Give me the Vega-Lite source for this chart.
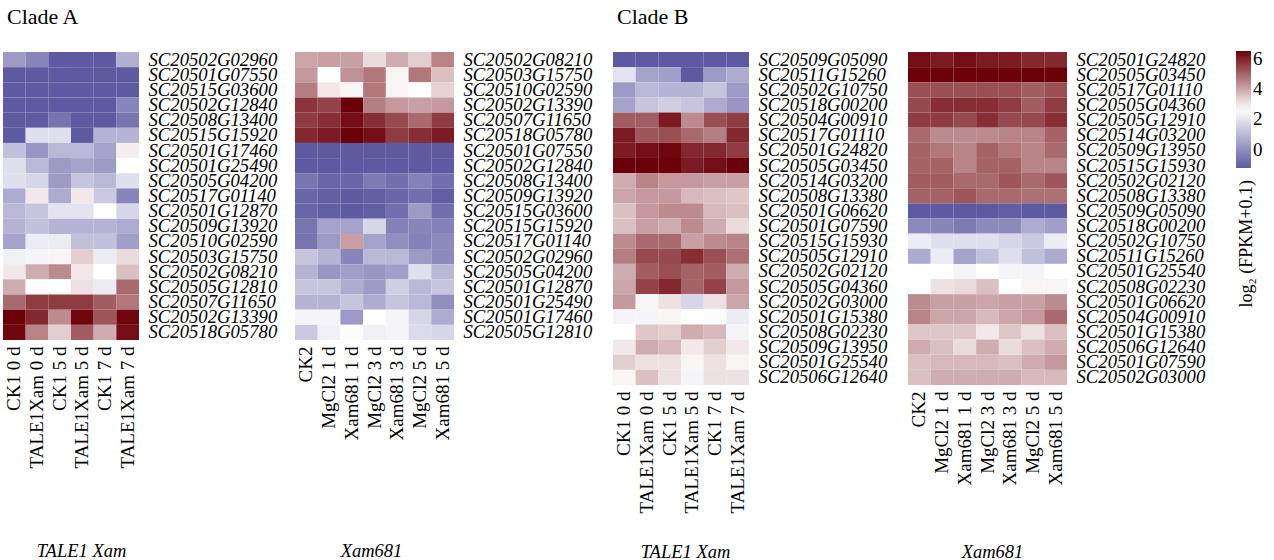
{
"$schema": "https://vega.github.io/schema/vega-lite/v6.json",
"background": "white",
"padding": {"left": 3, "top": 6, "right": 0, "bottom": 0},
"config": {
  "font": "Liberation Serif",
  "view": {"stroke": null},
  "axisX": {"labelAngle": 270, "domain": false, "ticks": false, "labelFontSize": 19, "labelPadding": 6, "labelColor": "#000", "titleFontSize": 18.5, "titleFontStyle": "italic", "titleFontWeight": "normal", "titleBaseline": "alphabetic", "titleColor": "#000", "labelOverlap": false},
  "axisY": {"domain": false, "ticks": false, "labelFontSize": 18.7, "labelFontStyle": "italic", "labelPadding": 9, "labelColor": "#000", "labelOverlap": false, "title": null},
  "title": {"fontSize": 22, "fontWeight": "normal", "anchor": "start", "color": "#000", "baseline": "alphabetic", "dx": 4, "offset": 21},
  "legend": {"orient": "none", "legendX": 1233, "legendY": -1, "direction": "vertical", "gradientLength": 117, "gradientThickness": 15, "labelFontSize": 19, "labelOffset": 6, "labelColor": "#000", "titleOrient": "bottom", "titleFontSize": 18, "titleFontWeight": "normal", "titleLimit": 0, "titlePadding": 12, "titleColor": "#000", "gradientStrokeWidth": 0}
},
"datasets": {
"A1": [
{"g":"SC20502G02960","s":"CK1 0 d","v":0.3},{"g":"SC20502G02960","s":"TALE1Xam 0 d","v":-0.2},{"g":"SC20502G02960","s":"CK1 5 d","v":-1.2},{"g":"SC20502G02960","s":"TALE1Xam 5 d","v":-1.2},{"g":"SC20502G02960","s":"CK1 7 d","v":-1.2},{"g":"SC20502G02960","s":"TALE1Xam 7 d","v":0.8},
{"g":"SC20501G07550","s":"CK1 0 d","v":-1.2},{"g":"SC20501G07550","s":"TALE1Xam 0 d","v":-1.2},{"g":"SC20501G07550","s":"CK1 5 d","v":-1.2},{"g":"SC20501G07550","s":"TALE1Xam 5 d","v":-1.2},{"g":"SC20501G07550","s":"CK1 7 d","v":-1.2},{"g":"SC20501G07550","s":"TALE1Xam 7 d","v":-1.2},
{"g":"SC20515G03600","s":"CK1 0 d","v":-1.2},{"g":"SC20515G03600","s":"TALE1Xam 0 d","v":-1.2},{"g":"SC20515G03600","s":"CK1 5 d","v":-1.2},{"g":"SC20515G03600","s":"TALE1Xam 5 d","v":-1.2},{"g":"SC20515G03600","s":"CK1 7 d","v":-1.2},{"g":"SC20515G03600","s":"TALE1Xam 7 d","v":-1.2},
{"g":"SC20502G12840","s":"CK1 0 d","v":-1.2},{"g":"SC20502G12840","s":"TALE1Xam 0 d","v":-1.2},{"g":"SC20502G12840","s":"CK1 5 d","v":-1.2},{"g":"SC20502G12840","s":"TALE1Xam 5 d","v":-1.2},{"g":"SC20502G12840","s":"CK1 7 d","v":-1.2},{"g":"SC20502G12840","s":"TALE1Xam 7 d","v":-0.2},
{"g":"SC20508G13400","s":"CK1 0 d","v":-1.2},{"g":"SC20508G13400","s":"TALE1Xam 0 d","v":-1.2},{"g":"SC20508G13400","s":"CK1 5 d","v":-0.6},{"g":"SC20508G13400","s":"TALE1Xam 5 d","v":-1.2},{"g":"SC20508G13400","s":"CK1 7 d","v":-1.2},{"g":"SC20508G13400","s":"TALE1Xam 7 d","v":-0.6},
{"g":"SC20515G15920","s":"CK1 0 d","v":-1.2},{"g":"SC20515G15920","s":"TALE1Xam 0 d","v":1.9},{"g":"SC20515G15920","s":"CK1 5 d","v":1.9},{"g":"SC20515G15920","s":"TALE1Xam 5 d","v":-1.2},{"g":"SC20515G15920","s":"CK1 7 d","v":0.9},{"g":"SC20515G15920","s":"TALE1Xam 7 d","v":0.9},
{"g":"SC20501G17460","s":"CK1 0 d","v":1.2},{"g":"SC20501G17460","s":"TALE1Xam 0 d","v":0.2},{"g":"SC20501G17460","s":"CK1 5 d","v":1.0},{"g":"SC20501G17460","s":"TALE1Xam 5 d","v":1.0},{"g":"SC20501G17460","s":"CK1 7 d","v":0.5},{"g":"SC20501G17460","s":"TALE1Xam 7 d","v":2.9},
{"g":"SC20501G25490","s":"CK1 0 d","v":1.9},{"g":"SC20501G25490","s":"TALE1Xam 0 d","v":1.0},{"g":"SC20501G25490","s":"CK1 5 d","v":0.3},{"g":"SC20501G25490","s":"TALE1Xam 5 d","v":0.5},{"g":"SC20501G25490","s":"CK1 7 d","v":0.3},{"g":"SC20501G25490","s":"TALE1Xam 7 d","v":2.65},
{"g":"SC20505G04200","s":"CK1 0 d","v":1.9},{"g":"SC20505G04200","s":"TALE1Xam 0 d","v":1.7},{"g":"SC20505G04200","s":"CK1 5 d","v":0.3},{"g":"SC20505G04200","s":"TALE1Xam 5 d","v":1.3},{"g":"SC20505G04200","s":"CK1 7 d","v":1.0},{"g":"SC20505G04200","s":"TALE1Xam 7 d","v":1.9},
{"g":"SC20517G01140","s":"CK1 0 d","v":0.7},{"g":"SC20517G01140","s":"TALE1Xam 0 d","v":3.0},{"g":"SC20517G01140","s":"CK1 5 d","v":0.7},{"g":"SC20517G01140","s":"TALE1Xam 5 d","v":3.0},{"g":"SC20517G01140","s":"CK1 7 d","v":1.4},{"g":"SC20517G01140","s":"TALE1Xam 7 d","v":-0.2},
{"g":"SC20501G12870","s":"CK1 0 d","v":1.0},{"g":"SC20501G12870","s":"TALE1Xam 0 d","v":1.3},{"g":"SC20501G12870","s":"CK1 5 d","v":2.0},{"g":"SC20501G12870","s":"TALE1Xam 5 d","v":2.0},{"g":"SC20501G12870","s":"CK1 7 d","v":2.65},{"g":"SC20501G12870","s":"TALE1Xam 7 d","v":1.7},
{"g":"SC20509G13920","s":"CK1 0 d","v":0.9},{"g":"SC20509G13920","s":"TALE1Xam 0 d","v":1.2},{"g":"SC20509G13920","s":"CK1 5 d","v":0.9},{"g":"SC20509G13920","s":"TALE1Xam 5 d","v":0.9},{"g":"SC20509G13920","s":"CK1 7 d","v":0.9},{"g":"SC20509G13920","s":"TALE1Xam 7 d","v":0.7},
{"g":"SC20510G02590","s":"CK1 0 d","v":0.5},{"g":"SC20510G02590","s":"TALE1Xam 0 d","v":2.2},{"g":"SC20510G02590","s":"CK1 5 d","v":2.2},{"g":"SC20510G02590","s":"TALE1Xam 5 d","v":1.2},{"g":"SC20510G02590","s":"CK1 7 d","v":1.2},{"g":"SC20510G02590","s":"TALE1Xam 7 d","v":0.4},
{"g":"SC20503G15750","s":"CK1 0 d","v":2.3},{"g":"SC20503G15750","s":"TALE1Xam 0 d","v":2.4},{"g":"SC20503G15750","s":"CK1 5 d","v":2.8},{"g":"SC20503G15750","s":"TALE1Xam 5 d","v":3.4},{"g":"SC20503G15750","s":"CK1 7 d","v":2.2},{"g":"SC20503G15750","s":"TALE1Xam 7 d","v":3.2},
{"g":"SC20502G08210","s":"CK1 0 d","v":3.0},{"g":"SC20502G08210","s":"TALE1Xam 0 d","v":3.9},{"g":"SC20502G08210","s":"CK1 5 d","v":4.4},{"g":"SC20502G08210","s":"TALE1Xam 5 d","v":3.0},{"g":"SC20502G08210","s":"CK1 7 d","v":2.65},{"g":"SC20502G08210","s":"TALE1Xam 7 d","v":3.6},
{"g":"SC20505G12810","s":"CK1 0 d","v":3.9},{"g":"SC20505G12810","s":"TALE1Xam 0 d","v":2.65},{"g":"SC20505G12810","s":"CK1 5 d","v":2.65},{"g":"SC20505G12810","s":"TALE1Xam 5 d","v":3.1},{"g":"SC20505G12810","s":"CK1 7 d","v":2.2},{"g":"SC20505G12810","s":"TALE1Xam 7 d","v":4.9},
{"g":"SC20507G11650","s":"CK1 0 d","v":4.9},{"g":"SC20507G11650","s":"TALE1Xam 0 d","v":5.6},{"g":"SC20507G11650","s":"CK1 5 d","v":5.6},{"g":"SC20507G11650","s":"TALE1Xam 5 d","v":5.6},{"g":"SC20507G11650","s":"CK1 7 d","v":5.1},{"g":"SC20507G11650","s":"TALE1Xam 7 d","v":4.7},
{"g":"SC20502G13390","s":"CK1 0 d","v":6.5},{"g":"SC20502G13390","s":"TALE1Xam 0 d","v":5.9},{"g":"SC20502G13390","s":"CK1 5 d","v":4.4},{"g":"SC20502G13390","s":"TALE1Xam 5 d","v":6.4},{"g":"SC20502G13390","s":"CK1 7 d","v":5.2},{"g":"SC20502G13390","s":"TALE1Xam 7 d","v":6.4},
{"g":"SC20518G05780","s":"CK1 0 d","v":6.4},{"g":"SC20518G05780","s":"TALE1Xam 0 d","v":4.5},{"g":"SC20518G05780","s":"CK1 5 d","v":3.4},{"g":"SC20518G05780","s":"TALE1Xam 5 d","v":5.1},{"g":"SC20518G05780","s":"CK1 7 d","v":3.9},{"g":"SC20518G05780","s":"TALE1Xam 7 d","v":6.3}
],
"A2": [
{"g":"SC20502G08210","s":"CK2","v":4.0},{"g":"SC20502G08210","s":"MgCl2 1 d","v":4.1},{"g":"SC20502G08210","s":"Xam681 1 d","v":4.1},{"g":"SC20502G08210","s":"MgCl2 3 d","v":3.2},{"g":"SC20502G08210","s":"Xam681 3 d","v":3.9},{"g":"SC20502G08210","s":"MgCl2 5 d","v":3.4},{"g":"SC20502G08210","s":"Xam681 5 d","v":4.5},
{"g":"SC20503G15750","s":"CK2","v":4.2},{"g":"SC20503G15750","s":"MgCl2 1 d","v":2.65},{"g":"SC20503G15750","s":"Xam681 1 d","v":4.3},{"g":"SC20503G15750","s":"MgCl2 3 d","v":4.7},{"g":"SC20503G15750","s":"Xam681 3 d","v":2.8},{"g":"SC20503G15750","s":"MgCl2 5 d","v":4.7},{"g":"SC20503G15750","s":"Xam681 5 d","v":3.6},
{"g":"SC20510G02590","s":"CK2","v":4.6},{"g":"SC20510G02590","s":"MgCl2 1 d","v":3.0},{"g":"SC20510G02590","s":"Xam681 1 d","v":2.8},{"g":"SC20510G02590","s":"MgCl2 3 d","v":4.7},{"g":"SC20510G02590","s":"Xam681 3 d","v":2.8},{"g":"SC20510G02590","s":"MgCl2 5 d","v":2.65},{"g":"SC20510G02590","s":"Xam681 5 d","v":3.3},
{"g":"SC20502G13390","s":"CK2","v":5.7},{"g":"SC20502G13390","s":"MgCl2 1 d","v":5.5},{"g":"SC20502G13390","s":"Xam681 1 d","v":6.5},{"g":"SC20502G13390","s":"MgCl2 3 d","v":4.6},{"g":"SC20502G13390","s":"Xam681 3 d","v":4.2},{"g":"SC20502G13390","s":"MgCl2 5 d","v":4.1},{"g":"SC20502G13390","s":"Xam681 5 d","v":4.2},
{"g":"SC20507G11650","s":"CK2","v":5.6},{"g":"SC20507G11650","s":"MgCl2 1 d","v":5.8},{"g":"SC20507G11650","s":"Xam681 1 d","v":6.3},{"g":"SC20507G11650","s":"MgCl2 3 d","v":5.8},{"g":"SC20507G11650","s":"Xam681 3 d","v":5.4},{"g":"SC20507G11650","s":"MgCl2 5 d","v":4.9},{"g":"SC20507G11650","s":"Xam681 5 d","v":5.6},
{"g":"SC20518G05780","s":"CK2","v":5.9},{"g":"SC20518G05780","s":"MgCl2 1 d","v":6.1},{"g":"SC20518G05780","s":"Xam681 1 d","v":6.5},{"g":"SC20518G05780","s":"MgCl2 3 d","v":6.3},{"g":"SC20518G05780","s":"Xam681 3 d","v":5.6},{"g":"SC20518G05780","s":"MgCl2 5 d","v":5.8},{"g":"SC20518G05780","s":"Xam681 5 d","v":6.1},
{"g":"SC20501G07550","s":"CK2","v":-1.2},{"g":"SC20501G07550","s":"MgCl2 1 d","v":-1.2},{"g":"SC20501G07550","s":"Xam681 1 d","v":-1.2},{"g":"SC20501G07550","s":"MgCl2 3 d","v":-1.2},{"g":"SC20501G07550","s":"Xam681 3 d","v":-1.2},{"g":"SC20501G07550","s":"MgCl2 5 d","v":-1.2},{"g":"SC20501G07550","s":"Xam681 5 d","v":-1.2},
{"g":"SC20502G12840","s":"CK2","v":-1.2},{"g":"SC20502G12840","s":"MgCl2 1 d","v":-1.2},{"g":"SC20502G12840","s":"Xam681 1 d","v":-1.2},{"g":"SC20502G12840","s":"MgCl2 3 d","v":-1.2},{"g":"SC20502G12840","s":"Xam681 3 d","v":-1.2},{"g":"SC20502G12840","s":"MgCl2 5 d","v":-1.2},{"g":"SC20502G12840","s":"Xam681 5 d","v":-1.2},
{"g":"SC20508G13400","s":"CK2","v":-0.6},{"g":"SC20508G13400","s":"MgCl2 1 d","v":-0.95},{"g":"SC20508G13400","s":"Xam681 1 d","v":-0.95},{"g":"SC20508G13400","s":"MgCl2 3 d","v":-0.45},{"g":"SC20508G13400","s":"Xam681 3 d","v":-0.7},{"g":"SC20508G13400","s":"MgCl2 5 d","v":-0.3},{"g":"SC20508G13400","s":"Xam681 5 d","v":-0.7},
{"g":"SC20509G13920","s":"CK2","v":-0.95},{"g":"SC20509G13920","s":"MgCl2 1 d","v":-1.1},{"g":"SC20509G13920","s":"Xam681 1 d","v":-1.2},{"g":"SC20509G13920","s":"MgCl2 3 d","v":-1.1},{"g":"SC20509G13920","s":"Xam681 3 d","v":-0.95},{"g":"SC20509G13920","s":"MgCl2 5 d","v":-0.7},{"g":"SC20509G13920","s":"Xam681 5 d","v":-1.1},
{"g":"SC20515G03600","s":"CK2","v":-0.95},{"g":"SC20515G03600","s":"MgCl2 1 d","v":-1.1},{"g":"SC20515G03600","s":"Xam681 1 d","v":-1.2},{"g":"SC20515G03600","s":"MgCl2 3 d","v":-1.1},{"g":"SC20515G03600","s":"Xam681 3 d","v":-0.7},{"g":"SC20515G03600","s":"MgCl2 5 d","v":0.3},{"g":"SC20515G03600","s":"Xam681 5 d","v":-0.7},
{"g":"SC20515G15920","s":"CK2","v":-0.6},{"g":"SC20515G15920","s":"MgCl2 1 d","v":0.5},{"g":"SC20515G15920","s":"Xam681 1 d","v":0.5},{"g":"SC20515G15920","s":"MgCl2 3 d","v":1.7},{"g":"SC20515G15920","s":"Xam681 3 d","v":-0.3},{"g":"SC20515G15920","s":"MgCl2 5 d","v":-0.2},{"g":"SC20515G15920","s":"Xam681 5 d","v":-0.3},
{"g":"SC20517G01140","s":"CK2","v":-0.6},{"g":"SC20517G01140","s":"MgCl2 1 d","v":0.3},{"g":"SC20517G01140","s":"Xam681 1 d","v":4.1},{"g":"SC20517G01140","s":"MgCl2 3 d","v":0.5},{"g":"SC20517G01140","s":"Xam681 3 d","v":0.0},{"g":"SC20517G01140","s":"MgCl2 5 d","v":-0.3},{"g":"SC20517G01140","s":"Xam681 5 d","v":-0.1},
{"g":"SC20502G02960","s":"CK2","v":1.3},{"g":"SC20502G02960","s":"MgCl2 1 d","v":0.9},{"g":"SC20502G02960","s":"Xam681 1 d","v":-0.2},{"g":"SC20502G02960","s":"MgCl2 3 d","v":1.0},{"g":"SC20502G02960","s":"Xam681 3 d","v":1.0},{"g":"SC20502G02960","s":"MgCl2 5 d","v":0.3},{"g":"SC20502G02960","s":"Xam681 5 d","v":-0.1},
{"g":"SC20505G04200","s":"CK2","v":0.9},{"g":"SC20505G04200","s":"MgCl2 1 d","v":0.2},{"g":"SC20505G04200","s":"Xam681 1 d","v":0.4},{"g":"SC20505G04200","s":"MgCl2 3 d","v":0.2},{"g":"SC20505G04200","s":"Xam681 3 d","v":0.4},{"g":"SC20505G04200","s":"MgCl2 5 d","v":1.9},{"g":"SC20505G04200","s":"Xam681 5 d","v":1.0},
{"g":"SC20501G12870","s":"CK2","v":1.3},{"g":"SC20501G12870","s":"MgCl2 1 d","v":1.3},{"g":"SC20501G12870","s":"Xam681 1 d","v":0.7},{"g":"SC20501G12870","s":"MgCl2 3 d","v":0.3},{"g":"SC20501G12870","s":"Xam681 3 d","v":1.5},{"g":"SC20501G12870","s":"MgCl2 5 d","v":1.0},{"g":"SC20501G12870","s":"Xam681 5 d","v":1.3},
{"g":"SC20501G25490","s":"CK2","v":0.9},{"g":"SC20501G25490","s":"MgCl2 1 d","v":0.9},{"g":"SC20501G25490","s":"Xam681 1 d","v":1.3},{"g":"SC20501G25490","s":"MgCl2 3 d","v":0.7},{"g":"SC20501G25490","s":"Xam681 3 d","v":1.3},{"g":"SC20501G25490","s":"MgCl2 5 d","v":1.0},{"g":"SC20501G25490","s":"Xam681 5 d","v":0.0},
{"g":"SC20501G17460","s":"CK2","v":2.4},{"g":"SC20501G17460","s":"MgCl2 1 d","v":2.4},{"g":"SC20501G17460","s":"Xam681 1 d","v":0.3},{"g":"SC20501G17460","s":"MgCl2 3 d","v":2.65},{"g":"SC20501G17460","s":"Xam681 3 d","v":2.4},{"g":"SC20501G17460","s":"MgCl2 5 d","v":1.7},{"g":"SC20501G17460","s":"Xam681 5 d","v":0.7},
{"g":"SC20505G12810","s":"CK2","v":1.4},{"g":"SC20505G12810","s":"MgCl2 1 d","v":2.3},{"g":"SC20505G12810","s":"Xam681 1 d","v":2.7},{"g":"SC20505G12810","s":"MgCl2 3 d","v":2.3},{"g":"SC20505G12810","s":"Xam681 3 d","v":2.4},{"g":"SC20505G12810","s":"MgCl2 5 d","v":1.8},{"g":"SC20505G12810","s":"Xam681 5 d","v":1.7}
],
"B1": [
{"g":"SC20509G05090","s":"CK1 0 d","v":-1.2},{"g":"SC20509G05090","s":"TALE1Xam 0 d","v":-1.2},{"g":"SC20509G05090","s":"CK1 5 d","v":-1.2},{"g":"SC20509G05090","s":"TALE1Xam 5 d","v":-1.2},{"g":"SC20509G05090","s":"CK1 7 d","v":-1.2},{"g":"SC20509G05090","s":"TALE1Xam 7 d","v":-1.2},
{"g":"SC20511G15260","s":"CK1 0 d","v":2.0},{"g":"SC20511G15260","s":"TALE1Xam 0 d","v":0.5},{"g":"SC20511G15260","s":"CK1 5 d","v":0.4},{"g":"SC20511G15260","s":"TALE1Xam 5 d","v":-1.2},{"g":"SC20511G15260","s":"CK1 7 d","v":0.3},{"g":"SC20511G15260","s":"TALE1Xam 7 d","v":0.7},
{"g":"SC20502G10750","s":"CK1 0 d","v":0.3},{"g":"SC20502G10750","s":"TALE1Xam 0 d","v":1.0},{"g":"SC20502G10750","s":"CK1 5 d","v":0.9},{"g":"SC20502G10750","s":"TALE1Xam 5 d","v":0.9},{"g":"SC20502G10750","s":"CK1 7 d","v":1.3},{"g":"SC20502G10750","s":"TALE1Xam 7 d","v":0.3},
{"g":"SC20518G00200","s":"CK1 0 d","v":0.5},{"g":"SC20518G00200","s":"TALE1Xam 0 d","v":1.3},{"g":"SC20518G00200","s":"CK1 5 d","v":1.5},{"g":"SC20518G00200","s":"TALE1Xam 5 d","v":1.3},{"g":"SC20518G00200","s":"CK1 7 d","v":0.7},{"g":"SC20518G00200","s":"TALE1Xam 7 d","v":0.2},
{"g":"SC20504G00910","s":"CK1 0 d","v":5.1},{"g":"SC20504G00910","s":"TALE1Xam 0 d","v":5.1},{"g":"SC20504G00910","s":"CK1 5 d","v":6.1},{"g":"SC20504G00910","s":"TALE1Xam 5 d","v":4.4},{"g":"SC20504G00910","s":"CK1 7 d","v":5.3},{"g":"SC20504G00910","s":"TALE1Xam 7 d","v":5.6},
{"g":"SC20517G01110","s":"CK1 0 d","v":6.1},{"g":"SC20517G01110","s":"TALE1Xam 0 d","v":5.2},{"g":"SC20517G01110","s":"CK1 5 d","v":5.3},{"g":"SC20517G01110","s":"TALE1Xam 5 d","v":4.9},{"g":"SC20517G01110","s":"CK1 7 d","v":4.6},{"g":"SC20517G01110","s":"TALE1Xam 7 d","v":5.9},
{"g":"SC20501G24820","s":"CK1 0 d","v":6.1},{"g":"SC20501G24820","s":"TALE1Xam 0 d","v":6.3},{"g":"SC20501G24820","s":"CK1 5 d","v":6.4},{"g":"SC20501G24820","s":"TALE1Xam 5 d","v":5.9},{"g":"SC20501G24820","s":"CK1 7 d","v":5.9},{"g":"SC20501G24820","s":"TALE1Xam 7 d","v":5.6},
{"g":"SC20505G03450","s":"CK1 0 d","v":6.5},{"g":"SC20505G03450","s":"TALE1Xam 0 d","v":6.5},{"g":"SC20505G03450","s":"CK1 5 d","v":6.5},{"g":"SC20505G03450","s":"TALE1Xam 5 d","v":6.1},{"g":"SC20505G03450","s":"CK1 7 d","v":6.3},{"g":"SC20505G03450","s":"TALE1Xam 7 d","v":6.5},
{"g":"SC20514G03200","s":"CK1 0 d","v":3.9},{"g":"SC20514G03200","s":"TALE1Xam 0 d","v":4.5},{"g":"SC20514G03200","s":"CK1 5 d","v":4.2},{"g":"SC20514G03200","s":"TALE1Xam 5 d","v":4.2},{"g":"SC20514G03200","s":"CK1 7 d","v":4.1},{"g":"SC20514G03200","s":"TALE1Xam 7 d","v":4.1},
{"g":"SC20508G13380","s":"CK1 0 d","v":4.0},{"g":"SC20508G13380","s":"TALE1Xam 0 d","v":4.2},{"g":"SC20508G13380","s":"CK1 5 d","v":4.2},{"g":"SC20508G13380","s":"TALE1Xam 5 d","v":3.7},{"g":"SC20508G13380","s":"CK1 7 d","v":3.6},{"g":"SC20508G13380","s":"TALE1Xam 7 d","v":3.5},
{"g":"SC20501G06620","s":"CK1 0 d","v":3.6},{"g":"SC20501G06620","s":"TALE1Xam 0 d","v":4.2},{"g":"SC20501G06620","s":"CK1 5 d","v":4.4},{"g":"SC20501G06620","s":"TALE1Xam 5 d","v":4.4},{"g":"SC20501G06620","s":"CK1 7 d","v":3.7},{"g":"SC20501G06620","s":"TALE1Xam 7 d","v":3.6},
{"g":"SC20501G07590","s":"CK1 0 d","v":3.6},{"g":"SC20501G07590","s":"TALE1Xam 0 d","v":4.1},{"g":"SC20501G07590","s":"CK1 5 d","v":3.9},{"g":"SC20501G07590","s":"TALE1Xam 5 d","v":4.4},{"g":"SC20501G07590","s":"CK1 7 d","v":3.9},{"g":"SC20501G07590","s":"TALE1Xam 7 d","v":3.2},
{"g":"SC20515G15930","s":"CK1 0 d","v":4.4},{"g":"SC20515G15930","s":"TALE1Xam 0 d","v":4.9},{"g":"SC20515G15930","s":"CK1 5 d","v":4.9},{"g":"SC20515G15930","s":"TALE1Xam 5 d","v":4.1},{"g":"SC20515G15930","s":"CK1 7 d","v":4.4},{"g":"SC20515G15930","s":"TALE1Xam 7 d","v":4.5},
{"g":"SC20505G12910","s":"CK1 0 d","v":4.6},{"g":"SC20505G12910","s":"TALE1Xam 0 d","v":5.4},{"g":"SC20505G12910","s":"CK1 5 d","v":5.4},{"g":"SC20505G12910","s":"TALE1Xam 5 d","v":5.8},{"g":"SC20505G12910","s":"CK1 7 d","v":5.3},{"g":"SC20505G12910","s":"TALE1Xam 7 d","v":4.8},
{"g":"SC20502G02120","s":"CK1 0 d","v":3.9},{"g":"SC20502G02120","s":"TALE1Xam 0 d","v":5.1},{"g":"SC20502G02120","s":"CK1 5 d","v":5.3},{"g":"SC20502G02120","s":"TALE1Xam 5 d","v":5.0},{"g":"SC20502G02120","s":"CK1 7 d","v":5.1},{"g":"SC20502G02120","s":"TALE1Xam 7 d","v":3.9},
{"g":"SC20505G04360","s":"CK1 0 d","v":4.0},{"g":"SC20505G04360","s":"TALE1Xam 0 d","v":5.5},{"g":"SC20505G04360","s":"CK1 5 d","v":5.9},{"g":"SC20505G04360","s":"TALE1Xam 5 d","v":5.0},{"g":"SC20505G04360","s":"CK1 7 d","v":5.5},{"g":"SC20505G04360","s":"TALE1Xam 7 d","v":4.2},
{"g":"SC20502G03000","s":"CK1 0 d","v":4.2},{"g":"SC20502G03000","s":"TALE1Xam 0 d","v":2.8},{"g":"SC20502G03000","s":"CK1 5 d","v":3.1},{"g":"SC20502G03000","s":"TALE1Xam 5 d","v":1.7},{"g":"SC20502G03000","s":"CK1 7 d","v":3.1},{"g":"SC20502G03000","s":"TALE1Xam 7 d","v":4.0},
{"g":"SC20501G15380","s":"CK1 0 d","v":2.4},{"g":"SC20501G15380","s":"TALE1Xam 0 d","v":2.4},{"g":"SC20501G15380","s":"CK1 5 d","v":2.8},{"g":"SC20501G15380","s":"TALE1Xam 5 d","v":2.65},{"g":"SC20501G15380","s":"CK1 7 d","v":2.7},{"g":"SC20501G15380","s":"TALE1Xam 7 d","v":2.2},
{"g":"SC20508G02230","s":"CK1 0 d","v":2.65},{"g":"SC20508G02230","s":"TALE1Xam 0 d","v":3.5},{"g":"SC20508G02230","s":"CK1 5 d","v":3.4},{"g":"SC20508G02230","s":"TALE1Xam 5 d","v":3.9},{"g":"SC20508G02230","s":"CK1 7 d","v":3.7},{"g":"SC20508G02230","s":"TALE1Xam 7 d","v":2.4},
{"g":"SC20509G13950","s":"CK1 0 d","v":3.0},{"g":"SC20509G13950","s":"TALE1Xam 0 d","v":3.9},{"g":"SC20509G13950","s":"CK1 5 d","v":3.7},{"g":"SC20509G13950","s":"TALE1Xam 5 d","v":3.0},{"g":"SC20509G13950","s":"CK1 7 d","v":3.4},{"g":"SC20509G13950","s":"TALE1Xam 7 d","v":3.0},
{"g":"SC20501G25540","s":"CK1 0 d","v":3.4},{"g":"SC20501G25540","s":"TALE1Xam 0 d","v":3.1},{"g":"SC20501G25540","s":"CK1 5 d","v":3.1},{"g":"SC20501G25540","s":"TALE1Xam 5 d","v":2.8},{"g":"SC20501G25540","s":"CK1 7 d","v":3.1},{"g":"SC20501G25540","s":"TALE1Xam 7 d","v":2.8},
{"g":"SC20506G12640","s":"CK1 0 d","v":2.8},{"g":"SC20506G12640","s":"TALE1Xam 0 d","v":3.6},{"g":"SC20506G12640","s":"CK1 5 d","v":3.1},{"g":"SC20506G12640","s":"TALE1Xam 5 d","v":2.4},{"g":"SC20506G12640","s":"CK1 7 d","v":3.1},{"g":"SC20506G12640","s":"TALE1Xam 7 d","v":3.1}
],
"B2": [
{"g":"SC20501G24820","s":"CK2","v":6.3},{"g":"SC20501G24820","s":"MgCl2 1 d","v":6.1},{"g":"SC20501G24820","s":"Xam681 1 d","v":6.3},{"g":"SC20501G24820","s":"MgCl2 3 d","v":6.1},{"g":"SC20501G24820","s":"Xam681 3 d","v":6.1},{"g":"SC20501G24820","s":"MgCl2 5 d","v":5.9},{"g":"SC20501G24820","s":"Xam681 5 d","v":5.9},
{"g":"SC20505G03450","s":"CK2","v":6.5},{"g":"SC20505G03450","s":"MgCl2 1 d","v":6.5},{"g":"SC20505G03450","s":"Xam681 1 d","v":6.5},{"g":"SC20505G03450","s":"MgCl2 3 d","v":6.5},{"g":"SC20505G03450","s":"Xam681 3 d","v":6.5},{"g":"SC20505G03450","s":"MgCl2 5 d","v":6.5},{"g":"SC20505G03450","s":"Xam681 5 d","v":6.5},
{"g":"SC20517G01110","s":"CK2","v":5.3},{"g":"SC20517G01110","s":"MgCl2 1 d","v":5.3},{"g":"SC20517G01110","s":"Xam681 1 d","v":5.3},{"g":"SC20517G01110","s":"MgCl2 3 d","v":5.3},{"g":"SC20517G01110","s":"Xam681 3 d","v":5.3},{"g":"SC20517G01110","s":"MgCl2 5 d","v":5.1},{"g":"SC20517G01110","s":"Xam681 5 d","v":5.3},
{"g":"SC20505G04360","s":"CK2","v":5.4},{"g":"SC20505G04360","s":"MgCl2 1 d","v":5.8},{"g":"SC20505G04360","s":"Xam681 1 d","v":5.8},{"g":"SC20505G04360","s":"MgCl2 3 d","v":5.8},{"g":"SC20505G04360","s":"Xam681 3 d","v":5.6},{"g":"SC20505G04360","s":"MgCl2 5 d","v":5.1},{"g":"SC20505G04360","s":"Xam681 5 d","v":5.6},
{"g":"SC20505G12910","s":"CK2","v":5.6},{"g":"SC20505G12910","s":"MgCl2 1 d","v":5.6},{"g":"SC20505G12910","s":"Xam681 1 d","v":5.4},{"g":"SC20505G12910","s":"MgCl2 3 d","v":5.8},{"g":"SC20505G12910","s":"Xam681 3 d","v":5.4},{"g":"SC20505G12910","s":"MgCl2 5 d","v":5.4},{"g":"SC20505G12910","s":"Xam681 5 d","v":5.8},
{"g":"SC20514G03200","s":"CK2","v":4.9},{"g":"SC20514G03200","s":"MgCl2 1 d","v":4.4},{"g":"SC20514G03200","s":"Xam681 1 d","v":4.4},{"g":"SC20514G03200","s":"MgCl2 3 d","v":4.4},{"g":"SC20514G03200","s":"Xam681 3 d","v":4.5},{"g":"SC20514G03200","s":"MgCl2 5 d","v":4.5},{"g":"SC20514G03200","s":"Xam681 5 d","v":5.0},
{"g":"SC20509G13950","s":"CK2","v":5.0},{"g":"SC20509G13950","s":"MgCl2 1 d","v":4.7},{"g":"SC20509G13950","s":"Xam681 1 d","v":4.5},{"g":"SC20509G13950","s":"MgCl2 3 d","v":5.0},{"g":"SC20509G13950","s":"Xam681 3 d","v":4.7},{"g":"SC20509G13950","s":"MgCl2 5 d","v":4.5},{"g":"SC20509G13950","s":"Xam681 5 d","v":4.9},
{"g":"SC20515G15930","s":"CK2","v":5.0},{"g":"SC20515G15930","s":"MgCl2 1 d","v":5.0},{"g":"SC20515G15930","s":"Xam681 1 d","v":4.5},{"g":"SC20515G15930","s":"MgCl2 3 d","v":5.0},{"g":"SC20515G15930","s":"Xam681 3 d","v":5.0},{"g":"SC20515G15930","s":"MgCl2 5 d","v":4.5},{"g":"SC20515G15930","s":"Xam681 5 d","v":4.5},
{"g":"SC20502G02120","s":"CK2","v":5.1},{"g":"SC20502G02120","s":"MgCl2 1 d","v":5.1},{"g":"SC20502G02120","s":"Xam681 1 d","v":4.9},{"g":"SC20502G02120","s":"MgCl2 3 d","v":4.9},{"g":"SC20502G02120","s":"Xam681 3 d","v":5.2},{"g":"SC20502G02120","s":"MgCl2 5 d","v":4.9},{"g":"SC20502G02120","s":"Xam681 5 d","v":5.2},
{"g":"SC20508G13380","s":"CK2","v":5.0},{"g":"SC20508G13380","s":"MgCl2 1 d","v":5.0},{"g":"SC20508G13380","s":"Xam681 1 d","v":5.2},{"g":"SC20508G13380","s":"MgCl2 3 d","v":4.9},{"g":"SC20508G13380","s":"Xam681 3 d","v":4.9},{"g":"SC20508G13380","s":"MgCl2 5 d","v":4.8},{"g":"SC20508G13380","s":"Xam681 5 d","v":4.8},
{"g":"SC20509G05090","s":"CK2","v":-1.2},{"g":"SC20509G05090","s":"MgCl2 1 d","v":-1.2},{"g":"SC20509G05090","s":"Xam681 1 d","v":-1.2},{"g":"SC20509G05090","s":"MgCl2 3 d","v":-1.2},{"g":"SC20509G05090","s":"Xam681 3 d","v":-1.1},{"g":"SC20509G05090","s":"MgCl2 5 d","v":-1.2},{"g":"SC20509G05090","s":"Xam681 5 d","v":-1.2},
{"g":"SC20518G00200","s":"CK2","v":-0.1},{"g":"SC20518G00200","s":"MgCl2 1 d","v":-0.2},{"g":"SC20518G00200","s":"Xam681 1 d","v":-0.45},{"g":"SC20518G00200","s":"MgCl2 3 d","v":-0.1},{"g":"SC20518G00200","s":"Xam681 3 d","v":-0.1},{"g":"SC20518G00200","s":"MgCl2 5 d","v":0.7},{"g":"SC20518G00200","s":"Xam681 5 d","v":0.4},
{"g":"SC20502G10750","s":"CK2","v":2.2},{"g":"SC20502G10750","s":"MgCl2 1 d","v":1.9},{"g":"SC20502G10750","s":"Xam681 1 d","v":1.9},{"g":"SC20502G10750","s":"MgCl2 3 d","v":1.9},{"g":"SC20502G10750","s":"Xam681 3 d","v":1.7},{"g":"SC20502G10750","s":"MgCl2 5 d","v":1.4},{"g":"SC20502G10750","s":"Xam681 5 d","v":2.2},
{"g":"SC20511G15260","s":"CK2","v":0.7},{"g":"SC20511G15260","s":"MgCl2 1 d","v":2.2},{"g":"SC20511G15260","s":"Xam681 1 d","v":0.5},{"g":"SC20511G15260","s":"MgCl2 3 d","v":1.2},{"g":"SC20511G15260","s":"Xam681 3 d","v":1.9},{"g":"SC20511G15260","s":"MgCl2 5 d","v":1.2},{"g":"SC20511G15260","s":"Xam681 5 d","v":0.7},
{"g":"SC20501G25540","s":"CK2","v":2.65},{"g":"SC20501G25540","s":"MgCl2 1 d","v":2.65},{"g":"SC20501G25540","s":"Xam681 1 d","v":2.4},{"g":"SC20501G25540","s":"MgCl2 3 d","v":2.65},{"g":"SC20501G25540","s":"Xam681 3 d","v":2.4},{"g":"SC20501G25540","s":"MgCl2 5 d","v":2.4},{"g":"SC20501G25540","s":"Xam681 5 d","v":2.65},
{"g":"SC20508G02230","s":"CK2","v":2.65},{"g":"SC20508G02230","s":"MgCl2 1 d","v":3.1},{"g":"SC20508G02230","s":"Xam681 1 d","v":3.2},{"g":"SC20508G02230","s":"MgCl2 3 d","v":3.6},{"g":"SC20508G02230","s":"Xam681 3 d","v":2.65},{"g":"SC20508G02230","s":"MgCl2 5 d","v":2.8},{"g":"SC20508G02230","s":"Xam681 5 d","v":2.8},
{"g":"SC20501G06620","s":"CK2","v":4.4},{"g":"SC20501G06620","s":"MgCl2 1 d","v":4.1},{"g":"SC20501G06620","s":"Xam681 1 d","v":4.1},{"g":"SC20501G06620","s":"MgCl2 3 d","v":4.0},{"g":"SC20501G06620","s":"Xam681 3 d","v":4.1},{"g":"SC20501G06620","s":"MgCl2 5 d","v":4.1},{"g":"SC20501G06620","s":"Xam681 5 d","v":4.4},
{"g":"SC20504G00910","s":"CK2","v":4.5},{"g":"SC20504G00910","s":"MgCl2 1 d","v":4.0},{"g":"SC20504G00910","s":"Xam681 1 d","v":4.0},{"g":"SC20504G00910","s":"MgCl2 3 d","v":3.7},{"g":"SC20504G00910","s":"Xam681 3 d","v":4.0},{"g":"SC20504G00910","s":"MgCl2 5 d","v":4.2},{"g":"SC20504G00910","s":"Xam681 5 d","v":4.9},
{"g":"SC20501G15380","s":"CK2","v":3.5},{"g":"SC20501G15380","s":"MgCl2 1 d","v":3.5},{"g":"SC20501G15380","s":"Xam681 1 d","v":3.5},{"g":"SC20501G15380","s":"MgCl2 3 d","v":3.0},{"g":"SC20501G15380","s":"Xam681 3 d","v":3.5},{"g":"SC20501G15380","s":"MgCl2 5 d","v":3.1},{"g":"SC20501G15380","s":"Xam681 5 d","v":3.6},
{"g":"SC20506G12640","s":"CK2","v":3.9},{"g":"SC20506G12640","s":"MgCl2 1 d","v":3.6},{"g":"SC20506G12640","s":"Xam681 1 d","v":3.2},{"g":"SC20506G12640","s":"MgCl2 3 d","v":3.9},{"g":"SC20506G12640","s":"Xam681 3 d","v":3.2},{"g":"SC20506G12640","s":"MgCl2 5 d","v":3.6},{"g":"SC20506G12640","s":"Xam681 5 d","v":3.9},
{"g":"SC20501G07590","s":"CK2","v":3.6},{"g":"SC20501G07590","s":"MgCl2 1 d","v":3.7},{"g":"SC20501G07590","s":"Xam681 1 d","v":3.7},{"g":"SC20501G07590","s":"MgCl2 3 d","v":3.7},{"g":"SC20501G07590","s":"Xam681 3 d","v":3.6},{"g":"SC20501G07590","s":"MgCl2 5 d","v":3.9},{"g":"SC20501G07590","s":"Xam681 5 d","v":4.2},
{"g":"SC20502G03000","s":"CK2","v":3.6},{"g":"SC20502G03000","s":"MgCl2 1 d","v":3.9},{"g":"SC20502G03000","s":"Xam681 1 d","v":3.9},{"g":"SC20502G03000","s":"MgCl2 3 d","v":3.9},{"g":"SC20502G03000","s":"Xam681 3 d","v":3.9},{"g":"SC20502G03000","s":"MgCl2 5 d","v":3.7},{"g":"SC20502G03000","s":"Xam681 5 d","v":3.7}
]
},
"spacing": 21,
"resolve": {"scale": {"color": "shared", "x": "independent", "y": "independent"}},
"hconcat": [
  {
    "title": {"text": "Clade A"},
    "spacing": 18,
    "resolve": {"scale": {"color": "shared", "x": "independent", "y": "independent"}},
    "hconcat": [
      {
        "width": 136, "height": 288,
        "data": {"name": "A1"},
        "mark": {"type": "rect"},
        "encoding": {
          "x": {"field": "s", "type": "nominal", "sort": null, "scale": {"paddingInner": 0, "paddingOuter": 0}, "axis": {"title": "TALE1  Xam", "titleY": 216, "titleX": 78}},
          "y": {"field": "g", "type": "nominal", "sort": null, "scale": {"paddingInner": 0, "paddingOuter": 0}, "axis": {"orient": "right"}},
          "color": {"field": "v", "type": "quantitative", "title": "log₂ (FPKM+0.1)", "scale": {"type": "linear", "domain": [-1.2, 2.65, 6.5], "range": ["#5e5aa2", "#ffffff", "#6c0008"], "interpolate": "rgb", "clamp": true}, "legend": {"values": [0, 2, 4, 6], "encode": {"title": {"update": {"angle": {"value": 270}, "align": {"value": "right"}, "baseline": {"value": "middle"}, "dy": {"value": 11}}}}}}
        }
      },
      {
        "width": 159, "height": 288,
        "data": {"name": "A2"},
        "mark": {"type": "rect"},
        "encoding": {
          "x": {"field": "s", "type": "nominal", "sort": null, "scale": {"paddingInner": 0, "paddingOuter": 0}, "axis": {"title": "Xam681", "titleY": 216, "titleX": 76}},
          "y": {"field": "g", "type": "nominal", "sort": null, "scale": {"paddingInner": 0, "paddingOuter": 0}, "axis": {"orient": "right"}},
          "color": {"field": "v", "type": "quantitative", "title": "log₂ (FPKM+0.1)", "scale": {"type": "linear", "domain": [-1.2, 2.65, 6.5], "range": ["#5e5aa2", "#ffffff", "#6c0008"], "interpolate": "rgb", "clamp": true}, "legend": {"values": [0, 2, 4, 6], "encode": {"title": {"update": {"angle": {"value": 270}, "align": {"value": "right"}, "baseline": {"value": "middle"}, "dy": {"value": 11}}}}}}
        }
      }
    ]
  },
  {
    "title": {"text": "Clade B"},
    "spacing": 21,
    "resolve": {"scale": {"color": "shared", "x": "independent", "y": "independent"}},
    "hconcat": [
      {
        "width": 136, "height": 333,
        "data": {"name": "B1"},
        "mark": {"type": "rect"},
        "encoding": {
          "x": {"field": "s", "type": "nominal", "sort": null, "scale": {"paddingInner": 0, "paddingOuter": 0}, "axis": {"title": "TALE1  Xam", "titleY": 172, "titleX": 72}},
          "y": {"field": "g", "type": "nominal", "sort": null, "scale": {"paddingInner": 0, "paddingOuter": 0}, "axis": {"orient": "right"}},
          "color": {"field": "v", "type": "quantitative", "title": "log₂ (FPKM+0.1)", "scale": {"type": "linear", "domain": [-1.2, 2.65, 6.5], "range": ["#5e5aa2", "#ffffff", "#6c0008"], "interpolate": "rgb", "clamp": true}, "legend": {"values": [0, 2, 4, 6], "encode": {"title": {"update": {"angle": {"value": 270}, "align": {"value": "right"}, "baseline": {"value": "middle"}, "dy": {"value": 11}}}}}}
        }
      },
      {
        "width": 159, "height": 333,
        "data": {"name": "B2"},
        "mark": {"type": "rect"},
        "encoding": {
          "x": {"field": "s", "type": "nominal", "sort": null, "scale": {"paddingInner": 0, "paddingOuter": 0}, "axis": {"title": "Xam681", "titleY": 172, "titleX": 84}},
          "y": {"field": "g", "type": "nominal", "sort": null, "scale": {"paddingInner": 0, "paddingOuter": 0}, "axis": {"orient": "right"}},
          "color": {"field": "v", "type": "quantitative", "title": "log₂ (FPKM+0.1)", "scale": {"type": "linear", "domain": [-1.2, 2.65, 6.5], "range": ["#5e5aa2", "#ffffff", "#6c0008"], "interpolate": "rgb", "clamp": true}, "legend": {"values": [0, 2, 4, 6], "encode": {"title": {"update": {"angle": {"value": 270}, "align": {"value": "right"}, "baseline": {"value": "middle"}, "dy": {"value": 11}}}}}}
        }
      }
    ]
  }
]
}
